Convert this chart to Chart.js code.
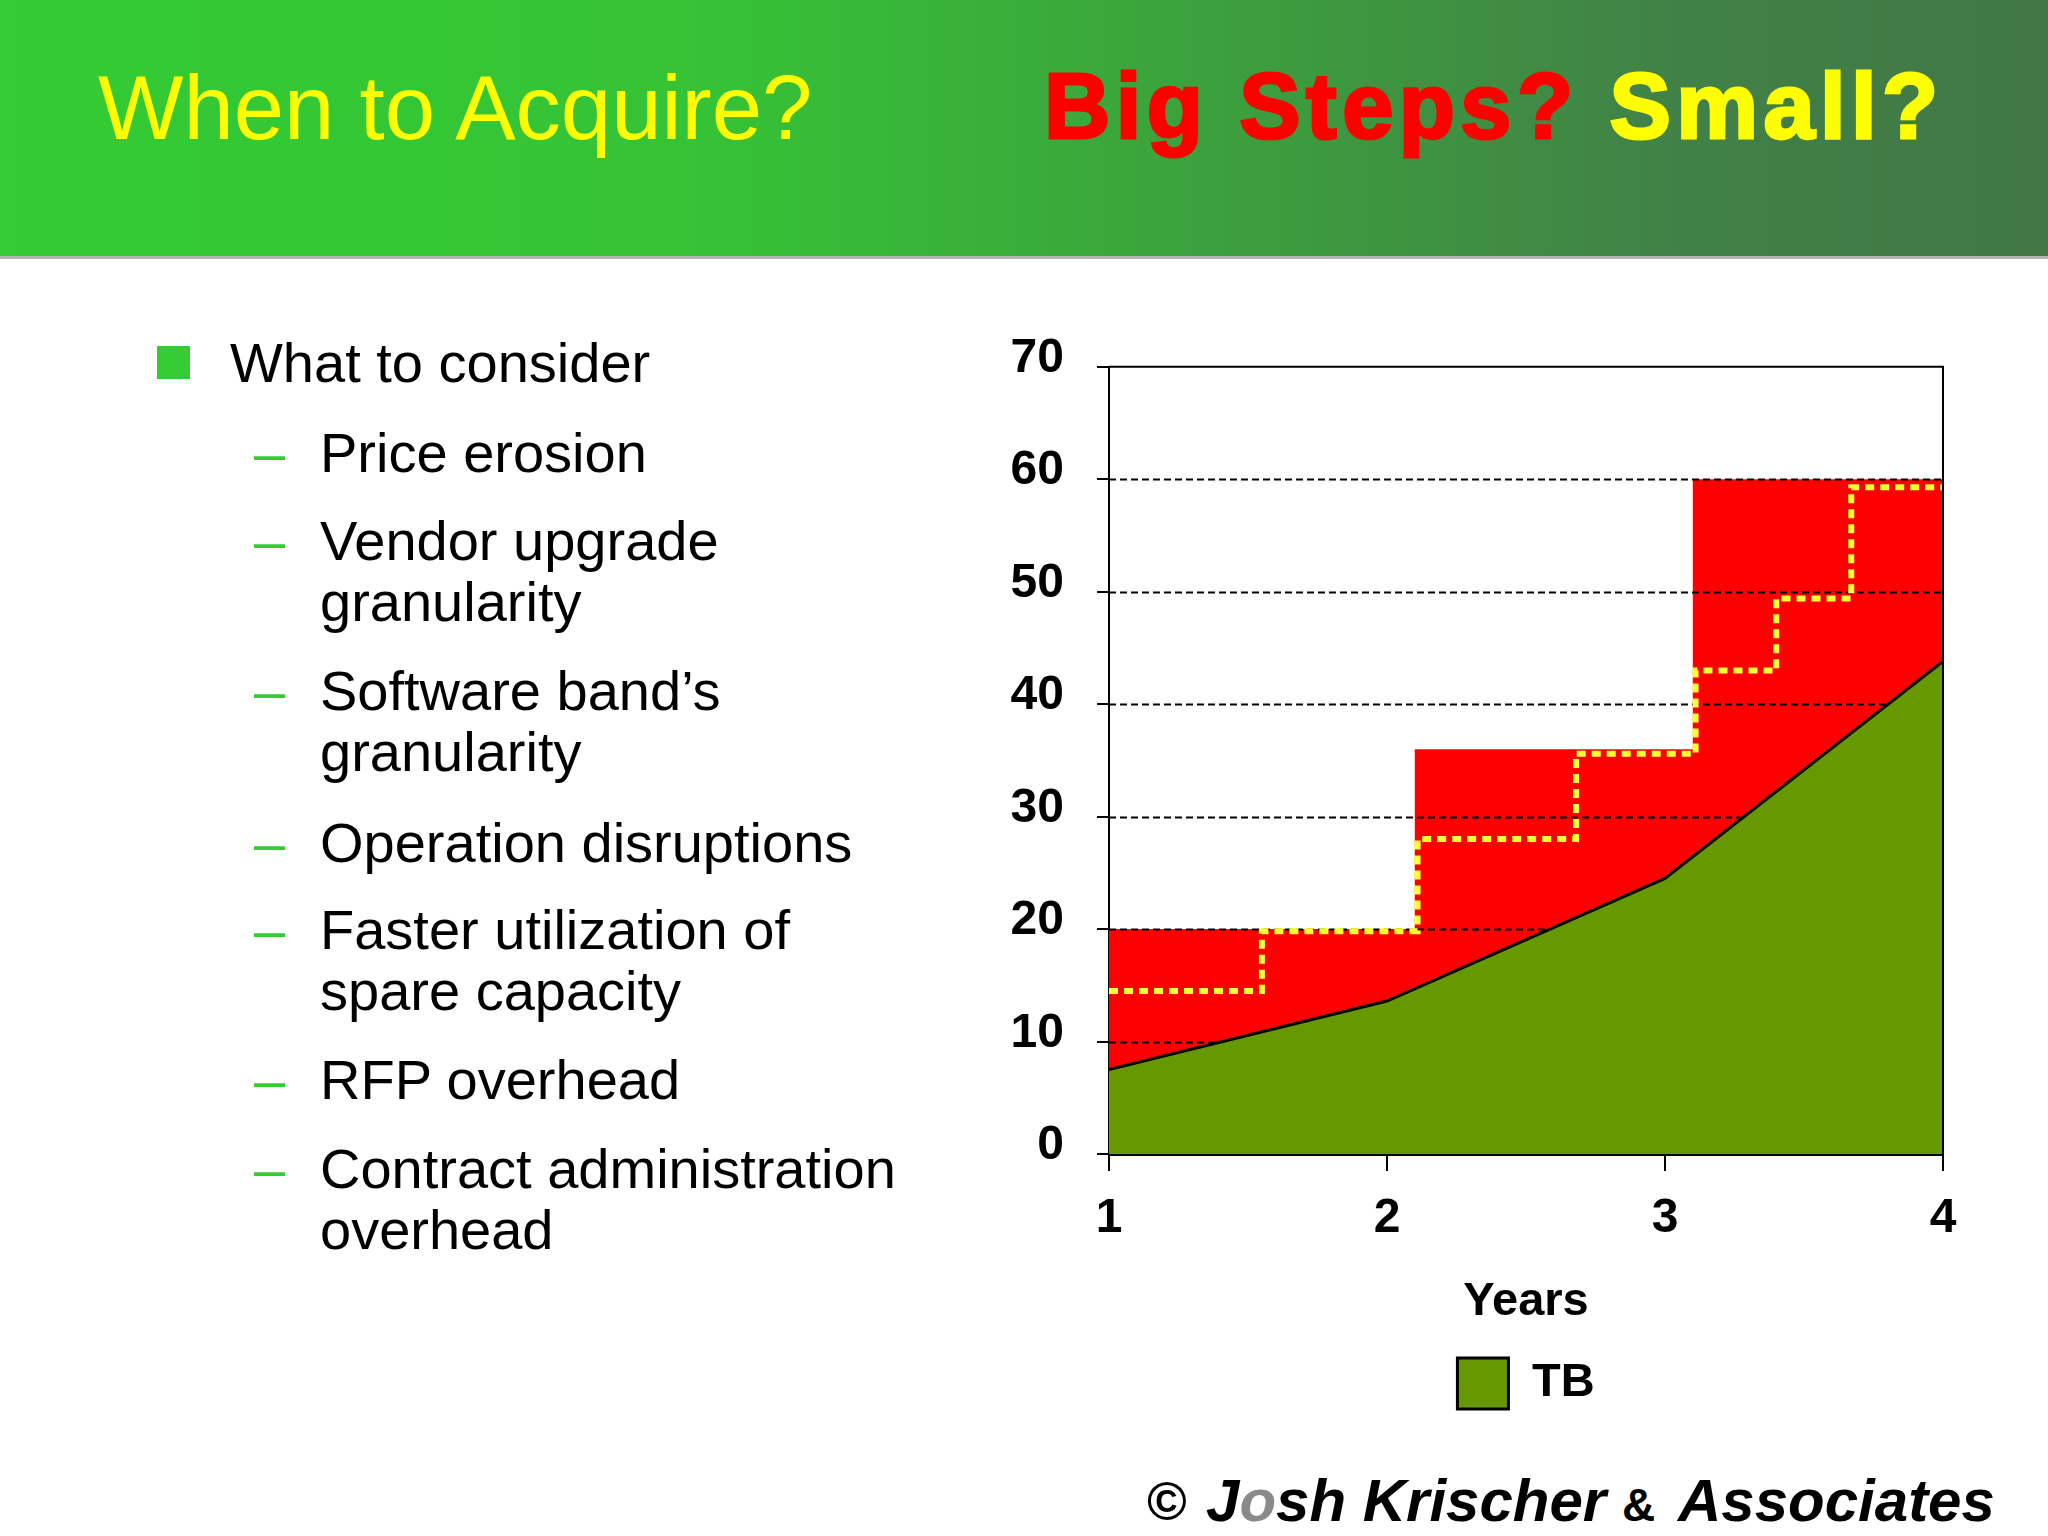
<!DOCTYPE html>
<html>
<head>
<meta charset="utf-8">
<script src="https://cdn.jsdelivr.net/npm/chart.js@4/dist/chart.umd.min.js"></script>
<style>
  body { margin: 0; width: 2048px; height: 1536px; background: #fff; position: relative; overflow: hidden;
         font-family: "Liberation Sans", Arial, sans-serif; }
  .head { position: absolute; left: 0; top: 0; width: 2048px; height: 256px;
          background: linear-gradient(to right, #33cc33 0%, #36c236 35%, #3c9f3d 60%, #418147 82%, #417845 100%);
          border-bottom: 3px solid #b5b5b5; }
  .t1 { position: absolute; left: 98px; top: 63px; font-size: 90.5px; line-height: 90.5px; color: #ffff00; white-space: nowrap; }
  .t2 { position: absolute; left: 1044px; top: 60px; font-size: 92px; line-height: 92px; font-weight: bold;
        letter-spacing: 5.4px; white-space: nowrap; -webkit-text-stroke: 3px currentColor; }
  .item { position: absolute; left: 320px; font-size: 56px; line-height: 61px; color: #000; white-space: nowrap; }
  .dash { position: absolute; left: 254px; font-size: 56px; line-height: 61px; color: #33cc33; }
  .sq { position: absolute; left: 157px; top: 346px; width: 33px; height: 33px; background: #33cc33; }
  .foot { position: absolute; font-weight: bold; font-style: italic; font-size: 60px; line-height: 60px; white-space: nowrap; color: #000; }
  #chart { position: absolute; left: 980px; top: 305px; }
</style>
</head>
<body>
<div class="head">
  <div class="t1">When to Acquire?</div>
  <div class="t2"><span style="color:#ff0000">Big Steps?</span> <span style="color:#ffff00">Small?</span></div>
</div>

<div class="sq"></div>
<div class="item" style="left:230px; top:332px">What to consider</div>

<div class="dash" style="top:422px">–</div><div class="item" style="top:422px">Price erosion</div>
<div class="dash" style="top:510px">–</div><div class="item" style="top:510px">Vendor upgrade<br>granularity</div>
<div class="dash" style="top:660px">–</div><div class="item" style="top:660px">Software band’s<br>granularity</div>
<div class="dash" style="top:812px">–</div><div class="item" style="top:812px">Operation disruptions</div>
<div class="dash" style="top:899px">–</div><div class="item" style="top:899px">Faster utilization of<br>spare capacity</div>
<div class="dash" style="top:1049px">–</div><div class="item" style="top:1049px">RFP overhead</div>
<div class="dash" style="top:1138px">–</div><div class="item" style="top:1138px">Contract administration<br>overhead</div>

<canvas id="chart" width="1000" height="1114"></canvas>

<div class="foot" style="left:1147px; top:1471px; font-style:normal; font-size:54px">©</div>
<div class="foot" style="left:1206px; top:1471px">J<span style="color:#8a8a8a">o</span>sh Krischer</div>
<div class="foot" style="left:1622px; top:1482px; font-size:46px; line-height:46px; font-style:normal">&amp;</div>
<div class="foot" style="left:1678px; top:1471px">Associates</div>

<script>
// values
const years = [1, 2, 3, 4];
const tbValues = [7.5, 13.6, 24.5, 43.8];

const bigStepX = [1, 2.1, 3.1, 4];
const bigStepY = [20, 36, 60, 60];

const smallStepX = [1, 1.55, 2.11, 2.68, 3.11, 3.4, 3.67, 4];
const smallStepY = [14.5, 19.8, 28, 35.6, 43, 49.4, 59.3, 59.3];

const yMin = 0, yMax = 70, yStep = 10;

const FONT = "'Liberation Sans', Arial, sans-serif";

function toPoints(xs, ys) {
	return xs.map((x, i) => ({ x: x, y: ys[i] }));
}

// dashed grid drawn right after the red area so it shows over red but under green
const gridOverRed = {
	id: "gridOverRed",
	afterDatasetDraw(chart, args) {
		if (args.index !== 1) return;
		let ctx = chart.ctx;
		let area = chart.chartArea;
		let y = chart.scales.y;
		ctx.save();
		ctx.strokeStyle = "#000";
		ctx.lineWidth = 2;
		ctx.setLineDash([7, 4]);
		y.ticks.forEach(t => {
			if (t.value <= yMin || t.value >= yMax) return;
			let py = Math.round(y.getPixelForValue(t.value)) + 0.5;
			ctx.beginPath();
			ctx.moveTo(area.left, py);
			ctx.lineTo(area.right, py);
			ctx.stroke();
		});
		ctx.restore();
	},
	afterDraw(chart) {
		let ctx = chart.ctx;
		let area = chart.chartArea;
		ctx.save();
		ctx.strokeStyle = "#000";
		ctx.lineWidth = 2;
		ctx.beginPath();
		ctx.moveTo(area.left, area.top);
		ctx.lineTo(area.right, area.top);
		ctx.lineTo(area.right, area.bottom);
		ctx.stroke();
		ctx.restore();
	}
};

let ctx = document.getElementById("chart").getContext("2d");
window.chart = new Chart(ctx, {
	type: "line",
	data: {
		datasets: [
			{
				label: "TB",
				data: toPoints(years, tbValues),
				backgroundColor: "#669900",
				borderColor: "#000",
				borderWidth: 3,
				fill: "origin",
				pointRadius: 0,
				tension: 0,
				order: 1
			},
			{
				label: "Big steps",
				data: toPoints(bigStepX, bigStepY),
				backgroundColor: "#ff0000",
				borderWidth: 0,
				stepped: "before",
				fill: "origin",
				pointRadius: 0,
				order: 2
			},
			{
				label: "Small steps",
				data: toPoints(smallStepX, smallStepY),
				borderColor: "#ffff33",
				borderWidth: 6,
				borderDash: [9, 6],
				borderCapStyle: "butt",
				stepped: "before",
				fill: false,
				pointRadius: 0,
				order: 0
			}
		]
	},
	options: {
		responsive: false,
		animation: false,
		devicePixelRatio: 1,
		layout: { padding: { top: 31, right: 37, bottom: 0, left: 0 } },
		plugins: {
			tooltip: { enabled: false },
			legend: {
				position: "bottom",
				fullSize: false,
				labels: {
					filter: item => item.datasetIndex === 0,
					boxWidth: 51,
					boxHeight: 51,
					padding: 10,
					color: "#000",
					font: { family: FONT, size: 47, weight: "bold" }
				}
			}
		},
		scales: {
			x: {
				type: "linear",
				min: 1,
				max: 4,
				afterFit: scale => { scale.height = 194; },
				ticks: {
					stepSize: 1,
					padding: 19,
					color: "#000",
					font: { family: FONT, size: 48, weight: "bold" }
				},
				grid: { drawOnChartArea: false, tickLength: 17, color: "#000", lineWidth: 2 },
				border: { color: "#000", width: 3 },
				title: {
					display: true,
					text: "Years",
					color: "#000",
					padding: { top: 0, bottom: 18 },
					font: { family: FONT, size: 47, weight: "bold" }
				}
			},
			y: {
				min: yMin,
				max: yMax,
				afterFit: scale => { scale.width = 129; },
				ticks: {
					stepSize: yStep,
					padding: 33,
					labelOffset: -8,
					color: "#000",
					font: { family: FONT, size: 48, weight: "bold" }
				},
				grid: { drawOnChartArea: false, tickLength: 12, color: "#000", lineWidth: 2 },
				border: { color: "#000", width: 2 }
			}
		}
	},
	plugins: [gridOverRed]
});
</script>
</body>
</html>
